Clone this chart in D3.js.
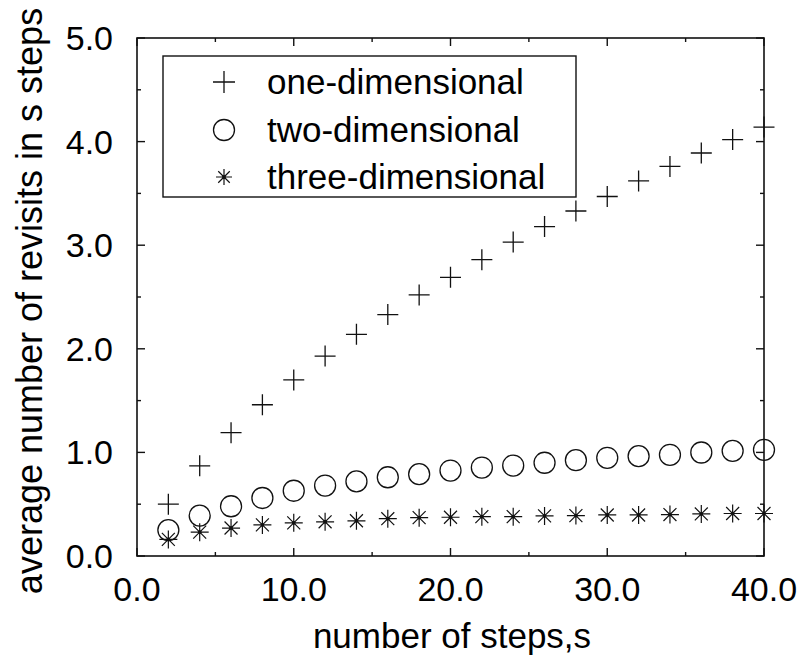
<!DOCTYPE html>
<html><head><meta charset="utf-8">
<script src="https://cdn.jsdelivr.net/npm/d3@7"></script>
<style>body{margin:0;background:#fff}svg{display:block}text{font-family:"Liberation Sans",Arial,sans-serif;fill:#000}</style>
</head><body><svg id="c" width="801" height="662"></svg>
<script>
const steps = [2,4,6,8,10,12,14,16,18,20,22,24,26,28,30,32,34,36,38,40];
const oneDim = [0.50,0.87,1.19,1.46,1.70,1.93,2.14,2.33,2.52,2.69,2.86,3.03,3.18,3.33,3.47,3.62,3.76,3.89,4.02,4.14];
const twoDim = [0.25,0.39,0.48,0.56,0.63,0.68,0.72,0.76,0.79,0.825,0.854,0.873,0.90,0.925,0.948,0.964,0.977,0.999,1.015,1.025];
const threeDim = [0.16,0.23,0.27,0.30,0.32,0.33,0.34,0.36,0.37,0.374,0.38,0.38,0.387,0.39,0.396,0.396,0.40,0.406,0.41,0.41];
const xTicks = [0,10,20,30,40];
const yTicks = [0,1,2,3,4,5];
const legendLabels = ["one-dimensional","two-dimensional","three-dimensional"];

const svg = d3.select("#c");
const L=137, R=764, T=38, B=556;
const x = d3.scaleLinear().domain([0,40]).range([L,R]);
const y = d3.scaleLinear().domain([0,5]).range([B,T]);
const fmt = d3.format(".1f");
const ink = "#111";

// frame
svg.append("rect").attr("x",L).attr("y",T).attr("width",R-L).attr("height",B-T)
  .attr("fill","none").attr("stroke",ink).attr("stroke-width",1.6);

// ticks (inward, all sides)
const xMinor = d3.range(5,40,10), yMinor = d3.range(0.5,5,1);
function xt(vals,len){
  svg.append("g").selectAll("line.b").data(vals).join("line")
    .attr("x1",d=>x(d)).attr("x2",d=>x(d)).attr("y1",B).attr("y2",B-len).attr("stroke",ink).attr("stroke-width",1.4);
  svg.append("g").selectAll("line.t").data(vals).join("line")
    .attr("x1",d=>x(d)).attr("x2",d=>x(d)).attr("y1",T).attr("y2",T+len).attr("stroke",ink).attr("stroke-width",1.4);
}
function yt(vals,len){
  svg.append("g").selectAll("line.l").data(vals).join("line")
    .attr("y1",d=>y(d)).attr("y2",d=>y(d)).attr("x1",L).attr("x2",L+len).attr("stroke",ink).attr("stroke-width",1.4);
  svg.append("g").selectAll("line.r").data(vals).join("line")
    .attr("y1",d=>y(d)).attr("y2",d=>y(d)).attr("x1",R).attr("x2",R-len).attr("stroke",ink).attr("stroke-width",1.4);
}
xt(xTicks,8); xt(xMinor,4); yt(yTicks,8); yt(yMinor,4);

// tick labels
svg.append("g").selectAll("text").data(xTicks).join("text")
  .attr("x",d=>x(d)).attr("y",601).attr("text-anchor","middle").attr("font-size",34).text(fmt);
svg.append("g").selectAll("text").data(yTicks).join("text")
  .attr("x",113).attr("y",d=>y(d)+12).attr("text-anchor","end").attr("font-size",34).text(fmt);

// axis titles
svg.append("text").attr("x",452).attr("y",648).attr("text-anchor","middle").attr("font-size",35).text("number of steps,s");
svg.append("text").attr("transform","translate(42,301) rotate(-90)").attr("text-anchor","middle").attr("font-size",36)
  .text("average number of revisits in s steps");

// marker drawers
function plus(g,cx,cy,h){ g.append("path").attr("d",`M${cx-h},${cy}H${cx+h}M${cx},${cy-h}V${cy+h}`).attr("stroke",ink).attr("stroke-width",1.3).attr("fill","none"); }
function circ(g,cx,cy,r){ g.append("circle").attr("cx",cx).attr("cy",cy).attr("r",r).attr("fill","none").attr("stroke",ink).attr("stroke-width",1.3); }
function star(g,cx,cy,h){
  const d=h*0.72;
  g.append("path").attr("d",`M${cx-h},${cy}H${cx+h}M${cx},${cy-h}V${cy+h}M${cx-d},${cy-d}L${cx+d},${cy+d}M${cx-d},${cy+d}L${cx+d},${cy-d}`)
   .attr("stroke",ink).attr("stroke-width",1.2).attr("fill","none");
  g.append("circle").attr("cx",cx).attr("cy",cy).attr("r",1.8).attr("fill",ink);
}

const gm = svg.append("g");
steps.forEach((s,i)=>{
  plus(gm,x(s),y(oneDim[i]),10.5);
  circ(gm,x(s),y(twoDim[i]),10.5);
  star(gm,x(s),y(threeDim[i]),9);
});

// legend
svg.append("rect").attr("x",163).attr("y",56).attr("width",413).attr("height",141)
  .attr("fill","#fff").attr("stroke",ink).attr("stroke-width",1.4);
const lg = svg.append("g");
const rowsY=[82,130,177];
plus(lg,224,rowsY[0],11);
circ(lg,224,rowsY[1],10.5);
star(lg,224,rowsY[2],8);
lg.selectAll("text").data(legendLabels).join("text")
  .attr("x",267).attr("y",(d,i)=>rowsY[i]+12).attr("font-size",35).text(d=>d);
</script></body></html>
